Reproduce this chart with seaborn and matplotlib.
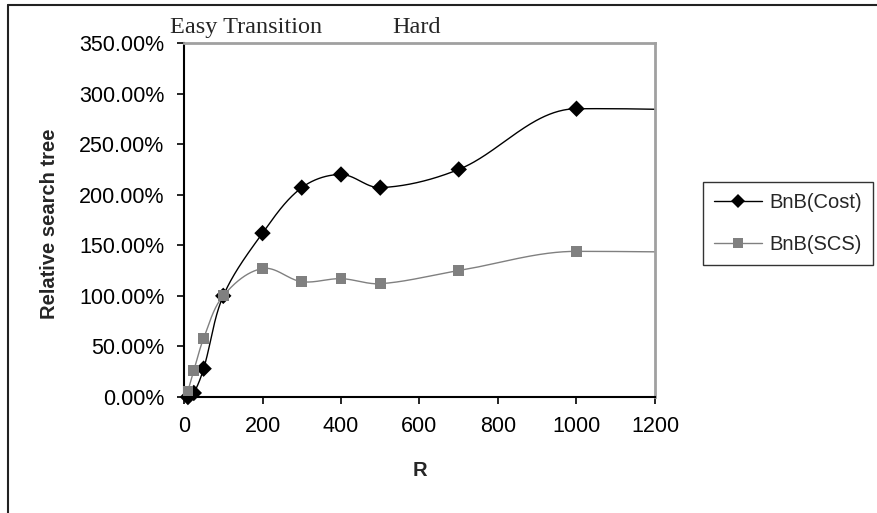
import numpy as np
import pandas as pd
import matplotlib
matplotlib.use("Agg")
import matplotlib.pyplot as plt
import seaborn as sns
from matplotlib.lines import Line2D
from matplotlib.ticker import FuncFormatter

# ---- data ----
R = [10, 25, 50, 100, 200, 300, 400, 500, 700, 1000]
cost = [0, 4, 28, 100, 162, 207, 220, 207, 225, 285]
scs = [6, 26, 58, 100, 127, 114, 117, 112, 125, 144]
R_tail = 3000
cost_tail = 232
scs_tail = 124
series_names = ["BnB(Cost)", "BnB(SCS)"]
x_ticks = [0, 200, 400, 600, 800, 1000, 1200]
y_ticks = [0, 50, 100, 150, 200, 250, 300, 350]
region_labels = ["Easy Transition", "Hard"]
x_label = "R"
y_label = "Relative search tree"

sns.set_theme(style="white")
plt.rcParams['font.family'] = ['Liberation Sans', 'DejaVu Sans']

W, H = 878, 513
fig = plt.figure(figsize=(W / 100, H / 100), dpi=100)
L, Rr, T, B = 184, 655, 43, 397
ax = fig.add_axes([L / W, 1 - B / H, (Rr - L) / W, (B - T) / H])

sx = (Rr - L) / 1200.0
sy = (B - T) / 350.0


def smooth(xs, ys, n=80):
    P = np.column_stack([np.asarray(xs, float) * sx, np.asarray(ys, float) * sy])
    ext = np.vstack([P[0], P, P[-1]])
    t = np.linspace(0, 1, n)[:, None]
    out = []
    for i in range(1, len(ext) - 2):
        p0, p1, p2, p3 = ext[i - 1], ext[i], ext[i + 1], ext[i + 2]
        seglen = np.linalg.norm(p2 - p1)
        d1 = p2 - p0
        d2 = p3 - p1
        d1 = d1 / np.linalg.norm(d1)
        d2 = d2 / np.linalg.norm(d2)
        c1 = p1 + d1 * seglen / 3.0
        c2 = p2 - d2 * seglen / 3.0
        seg = ((1 - t) ** 3) * p1 + 3 * ((1 - t) ** 2) * t * c1 + 3 * (1 - t) * t ** 2 * c2 + t ** 3 * p2
        out.append(seg if i == 1 else seg[1:])
    arr = np.vstack(out)
    return arr[:, 0] / sx, arr[:, 1] / sy


colors = {"BnB(Cost)": "#000000", "BnB(SCS)": "#808080"}
markers = {"BnB(Cost)": "D", "BnB(SCS)": "s"}
msizes = {"BnB(Cost)": 70, "BnB(SCS)": 60}
vals = {"BnB(Cost)": (cost, cost_tail), "BnB(SCS)": (scs, scs_tail)}

for name in series_names:
    v, tail = vals[name]
    xs, ys = smooth(R + [R_tail], v + [tail])
    df_line = pd.DataFrame({"R": xs, "val": ys})
    sns.lineplot(data=df_line, x="R", y="val", sort=False, estimator=None,
                 color=colors[name], lw=1.0, ax=ax)
    df_pts = pd.DataFrame({"R": R, "val": v})
    sns.scatterplot(data=df_pts, x="R", y="val", marker=markers[name],
                    s=msizes[name], color=colors[name], edgecolor="none",
                    ax=ax, clip_on=False, zorder=5)

ax.set_xlim(0, 1200)
ax.set_ylim(0, 350)
ax.set_xticks(x_ticks)
ax.set_yticks(y_ticks)
ax.yaxis.set_major_formatter(FuncFormatter(lambda v, p: f"{v:.2f}%"))
ax.set_xlabel("")
ax.set_ylabel("")
ax.tick_params(axis="both", which="both", direction="out", length=5, width=1.2,
               colors="black", labelsize=15.5, pad=9, left=True, bottom=True)

for s in ["left", "bottom"]:
    ax.spines[s].set_color("black")
    ax.spines[s].set_linewidth(1.5)
for s in ["top", "right"]:
    ax.spines[s].set_visible(True)
    ax.spines[s].set_color("#a0a0a0")
    ax.spines[s].set_linewidth(2)
ax.grid(False)

fig.text(50 / W, 1 - 224 / H, y_label, rotation=90, ha="center", va="center",
         fontsize=14.5, fontweight="bold")
fig.text(420 / W, 1 - 470 / H, x_label, ha="center", va="center",
         fontsize=14.5, fontweight="bold")

fig.text(170 / W, 1 - 33 / H, region_labels[0], ha="left", va="baseline",
         fontsize=17.5, family=["Liberation Serif", "DejaVu Serif"])
fig.text(392 / W, 1 - 33 / H, region_labels[1], ha="left", va="baseline",
         fontsize=17.5, family=["Liberation Serif", "DejaVu Serif"])

handles = [Line2D([], [], color=colors[n], marker=markers[n],
                  markersize=7.5 if n == series_names[0] else 7,
                  lw=1.0, markeredgewidth=0) for n in series_names]
leg = fig.legend(handles, series_names, loc="upper left",
                 bbox_to_anchor=(703 / W, 1 - 182 / H), frameon=True, fancybox=False,
                 edgecolor="black", fontsize=14.5, handlelength=2.4, borderpad=0.55,
                 labelspacing=1.15, handletextpad=0.35, borderaxespad=0)
leg.get_frame().set_linewidth(1.0)

# outer chart border (left and top visible)
fig.add_artist(Line2D([8 / W, 8 / W], [-0.05, 1 - 5 / H], transform=fig.transFigure,
                      color="#222222", lw=1.5))
fig.add_artist(Line2D([8 / W, 1.05], [1 - 5 / H, 1 - 5 / H], transform=fig.transFigure,
                      color="#222222", lw=1.5))

fig.savefig("out.png", dpi=100, facecolor="white")
